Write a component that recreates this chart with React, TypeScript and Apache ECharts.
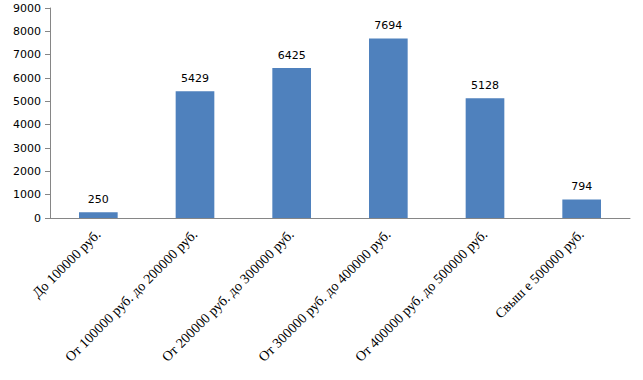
import React, { useEffect, useRef } from "react";
import * as echarts from "echarts";

const categories = [
  "До 100000 руб.",
  "От 100000 руб. до 200000 руб.",
  "От 200000 руб. до 300000 руб.",
  "От 300000 руб. до 400000 руб.",
  "От 400000 руб. до 500000 руб.",
  "Свыш е 500000 руб.",
];
const values = [250, 5429, 6425, 7694, 5128, 794];

export default function App() {
  const ref = useRef<HTMLDivElement>(null);
  useEffect(() => {
    const chart = echarts.init(ref.current!, null, { renderer: "svg" });
    chart.setOption({
      animation: false,
      grid: { left: 50, right: 13, top: 8, bottom: 162, containLabel: false },
      xAxis: {
        type: "category",
        data: categories,
        axisLine: { lineStyle: { color: "#868686" } },
        axisTick: { alignWithLabel: false, length: 5, lineStyle: { color: "#868686" } },
        axisLabel: {
          rotate: 45,
          interval: 0,
          margin: 14,
          fontFamily: "Liberation Serif",
          fontSize: 14,
          color: "#000",
        },
      },
      yAxis: {
        type: "value",
        min: 0,
        max: 9000,
        interval: 1000,
        axisLine: { show: true, lineStyle: { color: "#868686" } },
        axisTick: { show: true, length: 5, lineStyle: { color: "#868686" } },
        splitLine: { show: false },
        axisLabel: {
          fontFamily: "DejaVu Sans",
          fontSize: 11,
          color: "#000",
          margin: 9,
          formatter: (v: number) => String(v),
        },
      },
      series: [
        {
          type: "bar",
          data: values,
          barWidth: "40%",
          itemStyle: { color: "#4F81BD" },
          label: {
            show: true,
            position: "top",
            distance: 7,
            fontFamily: "DejaVu Sans",
            fontSize: 11,
            color: "#000",
          },
        },
      ],
    });
    return () => chart.dispose();
  }, []);
  return (
    <div
      ref={ref}
      style={{ position: "absolute", left: 0, top: 0, width: 643, height: 380 }}
    />
  );
}
